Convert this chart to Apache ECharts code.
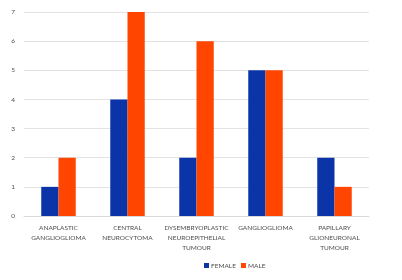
<!DOCTYPE html>
<html>
<head>
<meta charset="utf-8">
<style>
  html, body { margin: 0; padding: 0; background: #fff; }
  #chart { width: 402px; height: 280px; }
</style>
<script src="https://cdn.jsdelivr.net/npm/echarts@6/dist/echarts.min.js"></script>
</head>
<body>
<div id="chart"></div>
<script>
// tumour types and counts by sex
const categories = [
  'ANAPLASTIC\nGANGLIOGLIOMA',
  'CENTRAL\nNEUROCYTOMA',
  'DYSEMBRYOPLASTIC\nNEUROEPITHELIAL\nTUMOUR',
  'GANGLIOGLIOMA',
  'PAPILLARY\nGLIONEURONAL\nTUMOUR'
];
const female = [1, 4, 2, 5, 2];
const male = [2, 7, 6, 5, 1];

const myChart = echarts.init(document.getElementById('chart'));
myChart.setOption({
  animation: false,
  textStyle: { fontFamily: 'Lato' },
  grid: { left: 24, right: 33, top: 12, bottom: 64 },
  legend: {
    data: ['FEMALE', 'MALE'],
    left: 199, top: 257,
    itemWidth: 5, itemHeight: 5, itemGap: 5,
    icon: 'rect',
    textStyle: { fontSize: 6.5, color: '#4d4d4d', padding: [0, 0, 0, -3] }
  },
  xAxis: {
    type: 'category',
    data: categories,
    axisTick: { show: false },
    axisLine: { lineStyle: { color: '#d9d9d9' } },
    axisLabel: { fontSize: 6.5, color: '#4d4d4d', lineHeight: 10, margin: 7, interval: 0 }
  },
  yAxis: {
    type: 'value',
    min: 0, max: 7, interval: 1,
    axisLabel: { fontSize: 6.5, color: '#4d4d4d', margin: 9 },
    splitLine: { lineStyle: { color: '#e3e3e3' } }
  },
  series: [
    { name: 'FEMALE', type: 'bar', data: female, itemStyle: { color: '#0b34a8' },
      barGap: '0%', barCategoryGap: '50%' },
    { name: 'MALE', type: 'bar', data: male, itemStyle: { color: '#ff4500' } }
  ]
});
</script>
</body>
</html>
